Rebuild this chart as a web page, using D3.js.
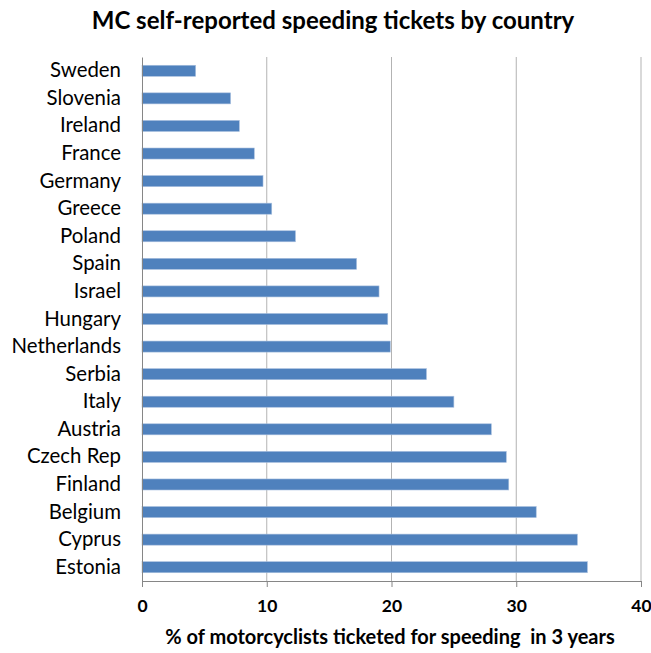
<!DOCTYPE html>
<html>
<head>
<meta charset="utf-8">
<script src="https://cdn.jsdelivr.net/npm/d3@7"></script>
<style>
  body { margin: 0; background: #fff; }
  svg text { font-family: Lato, "Open Sans", sans-serif; fill: #000; }
</style>
</head>
<body>
<div id="chartArea"></div>
<script>
// countries top to bottom, as in the picture
var countries = ['Sweden','Slovenia','Ireland','France','Germany','Greece','Poland','Spain',
                 'Israel','Hungary','Netherlands','Serbia','Italy','Austria','Czech Rep',
                 'Finland','Belgium','Cyprus','Estonia'];
var ticketed = [4.3, 7.1, 7.8, 9.0, 9.7, 10.4, 12.3, 17.2,
                19.0, 19.7, 19.9, 22.8, 25.0, 28.0, 29.2,
                29.4, 31.6, 34.9, 35.7];
var xTicks = [0, 10, 20, 30, 40];

var width = 651, height = 653;
var margin = {top: 57, right: 10, bottom: 72, left: 142};

var svg = d3.select('#chartArea').append('svg')
    .attr('width', width)
    .attr('height', height);

var xscale = d3.scaleLinear().domain([0, 40]).range([margin.left, width - margin.right]);
var yscale = d3.scaleBand().domain(countries)
    .range([margin.top, height - margin.bottom])
    .paddingInner(0.6).paddingOuter(0.3);

// gridlines
svg.append('g').selectAll('line').data(xTicks.slice(1)).enter().append('line')
    .attr('x1', function(d){ return xscale(d); })
    .attr('x2', function(d){ return xscale(d); })
    .attr('y1', margin.top)
    .attr('y2', height - margin.bottom)
    .attr('stroke', '#b3b3b3')
    .attr('stroke-width', 1);

// bars
svg.append('g').selectAll('rect').data(countries).enter().append('rect')
    .attr('x', xscale(0))
    .attr('y', function(d){ return yscale(d); })
    .attr('width', function(d, i){ return xscale(ticketed[i]) - xscale(0); })
    .attr('height', yscale.bandwidth())
    .attr('fill', '#4f81bd')
    .attr('stroke', '#a7bfde')
    .attr('stroke-width', 0.6);

// bottom axis
var xAxis = svg.append('g')
    .attr('transform', 'translate(0,' + (height - margin.bottom) + ')')
    .call(d3.axisBottom(xscale).tickValues(xTicks).tickSize(6).tickPadding(13));
xAxis.select('.domain').attr('stroke', '#868686');
xAxis.selectAll('.tick line').attr('stroke', '#868686');
xAxis.selectAll('.tick text')
    .style('font-size', '17.5px')
    .style('font-weight', 'bold');

// left axis
var yAxis = svg.append('g')
    .attr('transform', 'translate(' + margin.left + ',0)')
    .call(d3.axisLeft(yscale).tickSize(0).tickPadding(21));
yAxis.select('.domain').attr('stroke', '#868686');
yAxis.selectAll('.tick text')
    .style('font-size', '20.4px');

svg.append('text')
    .attr('x', 333)
    .attr('y', 29)
    .attr('text-anchor', 'middle')
    .style('font-size', '24px')
    .style('font-weight', 'bold')
    .text('MC self-reported speeding tickets by country');

svg.append('text')
    .attr('x', 390)
    .attr('y', 644)
    .attr('text-anchor', 'middle')
    .style('font-size', '20px')
    .style('font-weight', 'bold')
    .style('white-space', 'pre')
    .text('% of motorcyclists ticketed for speeding  in 3 years');
</script>
</body>
</html>
